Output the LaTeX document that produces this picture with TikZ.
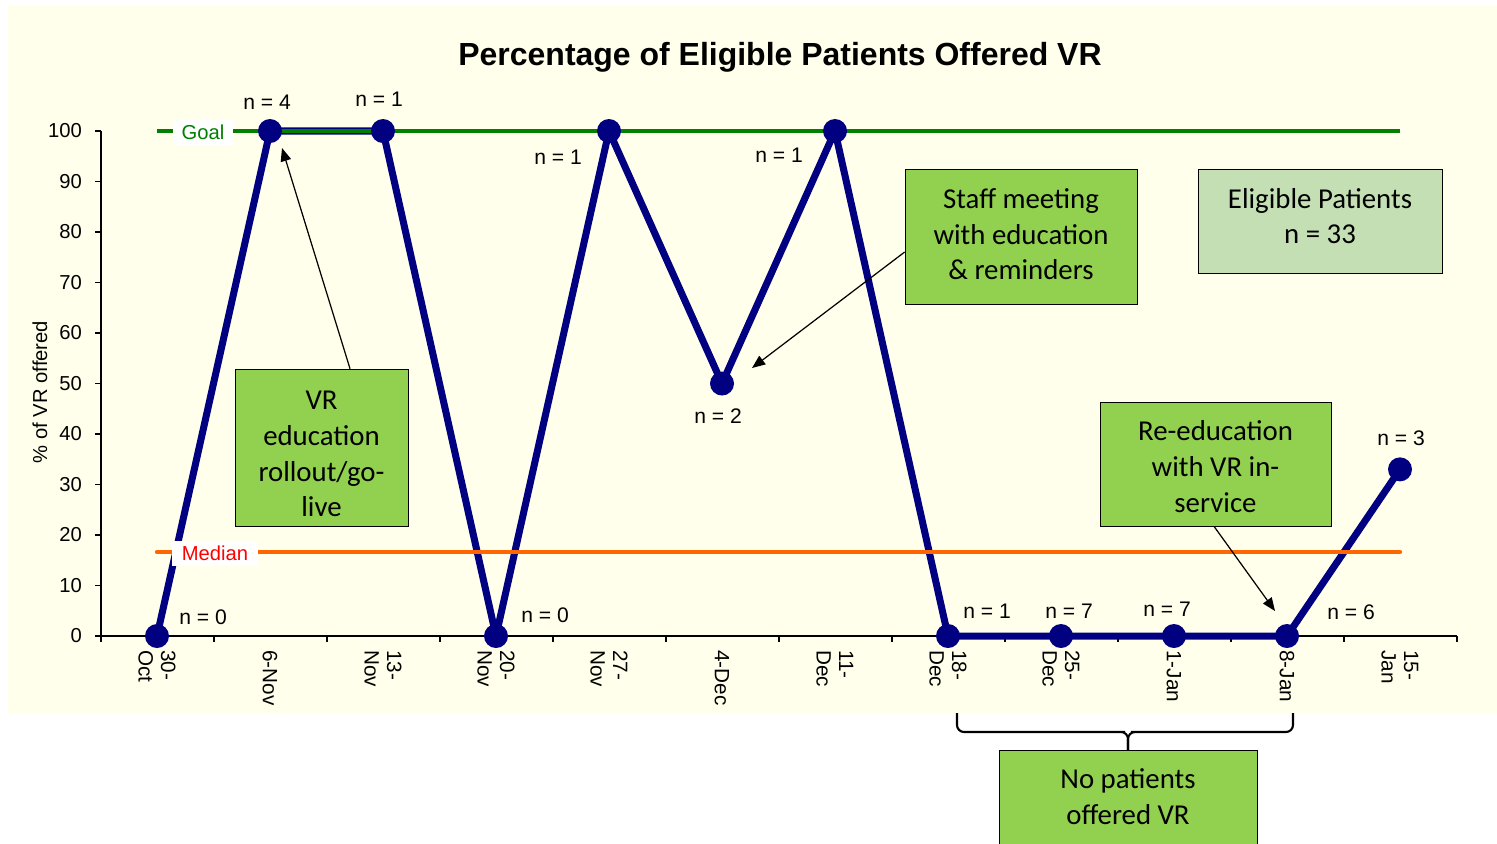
\documentclass[tikz,border=0pt]{standalone}
\usepackage{fontspec}
\usepackage{xcolor}
\usepackage{tikz}
\usetikzlibrary{arrows.meta,positioning,calc}
\setmainfont{Liberation Sans}
\newfontfamily\calibri{Carlito}

\definecolor{chartbg}{RGB}{255,255,235}
\definecolor{datanavy}{RGB}{0,0,128}
\definecolor{goalgreen}{RGB}{0,128,0}
\definecolor{medorange}{RGB}{255,102,0}
\definecolor{notegreen}{RGB}{146,208,80}
\definecolor{palegreen}{RGB}{196,223,180}

\begin{document}
\begin{tikzpicture}[x=0.02cm, y=-0.02cm,
    box/.style={rectangle, draw, fill=notegreen, inner sep=0pt},
    boxtext/.style={align=center, inner sep=0pt, font=\calibri\fontsize{16.4}{20.4}\selectfont},
    arr/.style={-{Triangle[length=7.5pt, width=6pt]}, line width=0.7pt},
    lbl/.style={font=\fontsize{12}{14}\selectfont},
    tlbl/.style={font=\fontsize{11.8}{12.8}\selectfont, rotate=-90, anchor=west, align=left, inner sep=0pt},
    dataline/.style={datanavy, line width=4pt, line join=round},
    dot/.style={circle, fill=datanavy, minimum size=0.48cm, inner sep=0pt},
    tag/.style={fill=white, inner sep=0pt, minimum height=0.5cm, font=\fontsize{11.5}{13}\selectfont},
  ]

  % Canvas and chart area
  \useasboundingbox (0,0) rectangle (1497,843);
  \fill[white] (0,0) rectangle (1497,843);
  \fill[chartbg] (8,5) rectangle (1497,713);

  % Title
  \node[font=\bfseries\fontsize{18.2}{20}\selectfont] (title) at (780,57) {Percentage of Eligible Patients Offered VR};

  % Axes
  \draw[line width=0.6pt] (101,131) -- (101,636) -- (1457,636);
  \foreach \v in {0,10,...,100} {
    \draw[line width=0.6pt] (95,{636-5.05*\v}) -- (101,{636-5.05*\v});
    \node[lbl, font=\fontsize{11.5}{13}\selectfont, anchor=east] (ytick\v) at (88,{636-5.05*\v}) {\v};
  }
  \foreach \k in {0,...,12}
    \draw[line width=0.6pt] ({101+113*\k},636) -- ({101+113*\k},642);
  \node[font=\fontsize{11.5}{13}\selectfont, rotate=90] (ytitle) at (40,392) {\% of VR offered};

  % Week labels
  \foreach \i/\d in {1/{30-\\Oct},2/{6-Nov},3/{13-\\Nov},4/{20-\\Nov},5/{27-\\Nov},6/{4-Dec},
                     7/{11-\\Dec},8/{18-\\Dec},9/{25-\\Dec},10/{1-Jan},11/{8-Jan},12/{15-\\Jan}}
    \node[tlbl] (week\i) at ({44+113*\i},650) {\d};

  % Data points
  \foreach \i/\v in {1/0,2/100,3/100,4/0,5/100,6/50,7/100,8/0,9/0,10/0,11/0,12/33}
    \coordinate (p\i) at ({44+113*\i},{636-5.05*\v});
  \draw[dataline] (p1) \foreach \i in {2,...,12}{ -- (p\i)};

  % Goal and median
  \draw[goalgreen, line width=1.8pt] (157,131) -- (1400,131);
  \draw[medorange, line width=2.4pt, line cap=round] (157,552) -- (1400,552);
  \node[tag, text=goalgreen, minimum width=1.2cm] (goal) at (203,132) {Goal};
  \node[tag, text=red, minimum width=1.72cm] (median) at (215,553) {Median};

  \foreach \i in {1,...,12}
    \node[dot] (d\i) at (p\i) {};

  % Sample sizes
  \node[lbl] (n1) at (203,617) {n = 0};
  \node[lbl] (n2) at (267,102) {n = 4};
  \node[lbl] (n3) at (379,99) {n = 1};
  \node[lbl] (n4) at (545,615) {n = 0};
  \node[lbl] (n5) at (558,157) {n = 1};
  \node[lbl] (n6) at (718,416) {n = 2};
  \node[lbl] (n7) at (779,155) {n = 1};
  \node[lbl] (n8) at (987,611) {n = 1};
  \node[lbl] (n9) at (1069,611) {n = 7};
  \node[lbl] (n10) at (1167,609) {n = 7};
  \node[lbl] (n11) at (1351,612) {n = 6};
  \node[lbl] (n12) at (1401,438) {n = 3};

  % Notes
  \node[box, minimum width=3.46cm, minimum height=3.14cm] (rollout) at (321.5,447.5) {};
  \node[boxtext, yshift=-3.7pt] (rollouttext) at (rollout.center) {VR\\education\\rollout/go-\\live};
  \node[box, minimum width=4.64cm, minimum height=2.7cm] (staff) at (1021,236.5) {};
  \node[boxtext, yshift=1.3pt] (stafftext) at (staff.center) {Staff meeting\\with education\\\& reminders};
  \node[box, fill=palegreen, minimum width=4.88cm, minimum height=2.08cm] (eligible) at (1320,221) {};
  \node[boxtext, yshift=2.8pt] (eligibletext) at (eligible.center) {Eligible Patients\\n = 33};
  \node[box, minimum width=4.62cm, minimum height=2.48cm] (reedu) at (1215.5,464) {};
  \node[boxtext, yshift=-1.4pt] (reedutext) at (reedu.center) {Re-education\\with VR in-\\service};
  \node[box, anchor=north, minimum width=5.16cm, minimum height=2.2cm] (nopat) at (1128,750) {};
  \node[boxtext] (noptext) at (1128,797) {No patients\\offered VR};

  \coordinate (aroll) at (282,148);
  \coordinate (astaff) at (752,368);
  \coordinate (areedu) at (1275,611);
  \draw[arr] (rollout.north -| 350,0) -- (aroll);
  \draw[arr] (staff.west |- 0,252) -- (astaff);
  \draw[arr] (reedu.south -| 1214,0) -- (areedu);

  % Bracket over the zero weeks
  \coordinate (bl) at (957,713);
  \coordinate (br) at (1293,713);
  \draw[line width=1.2pt, rounded corners=4pt] (bl) |- (1118,732) -| (nopat.north);
  \draw[line width=1.2pt, rounded corners=4pt] (br) |- (1138,732) -| (nopat.north);

\end{tikzpicture}
\end{document}
